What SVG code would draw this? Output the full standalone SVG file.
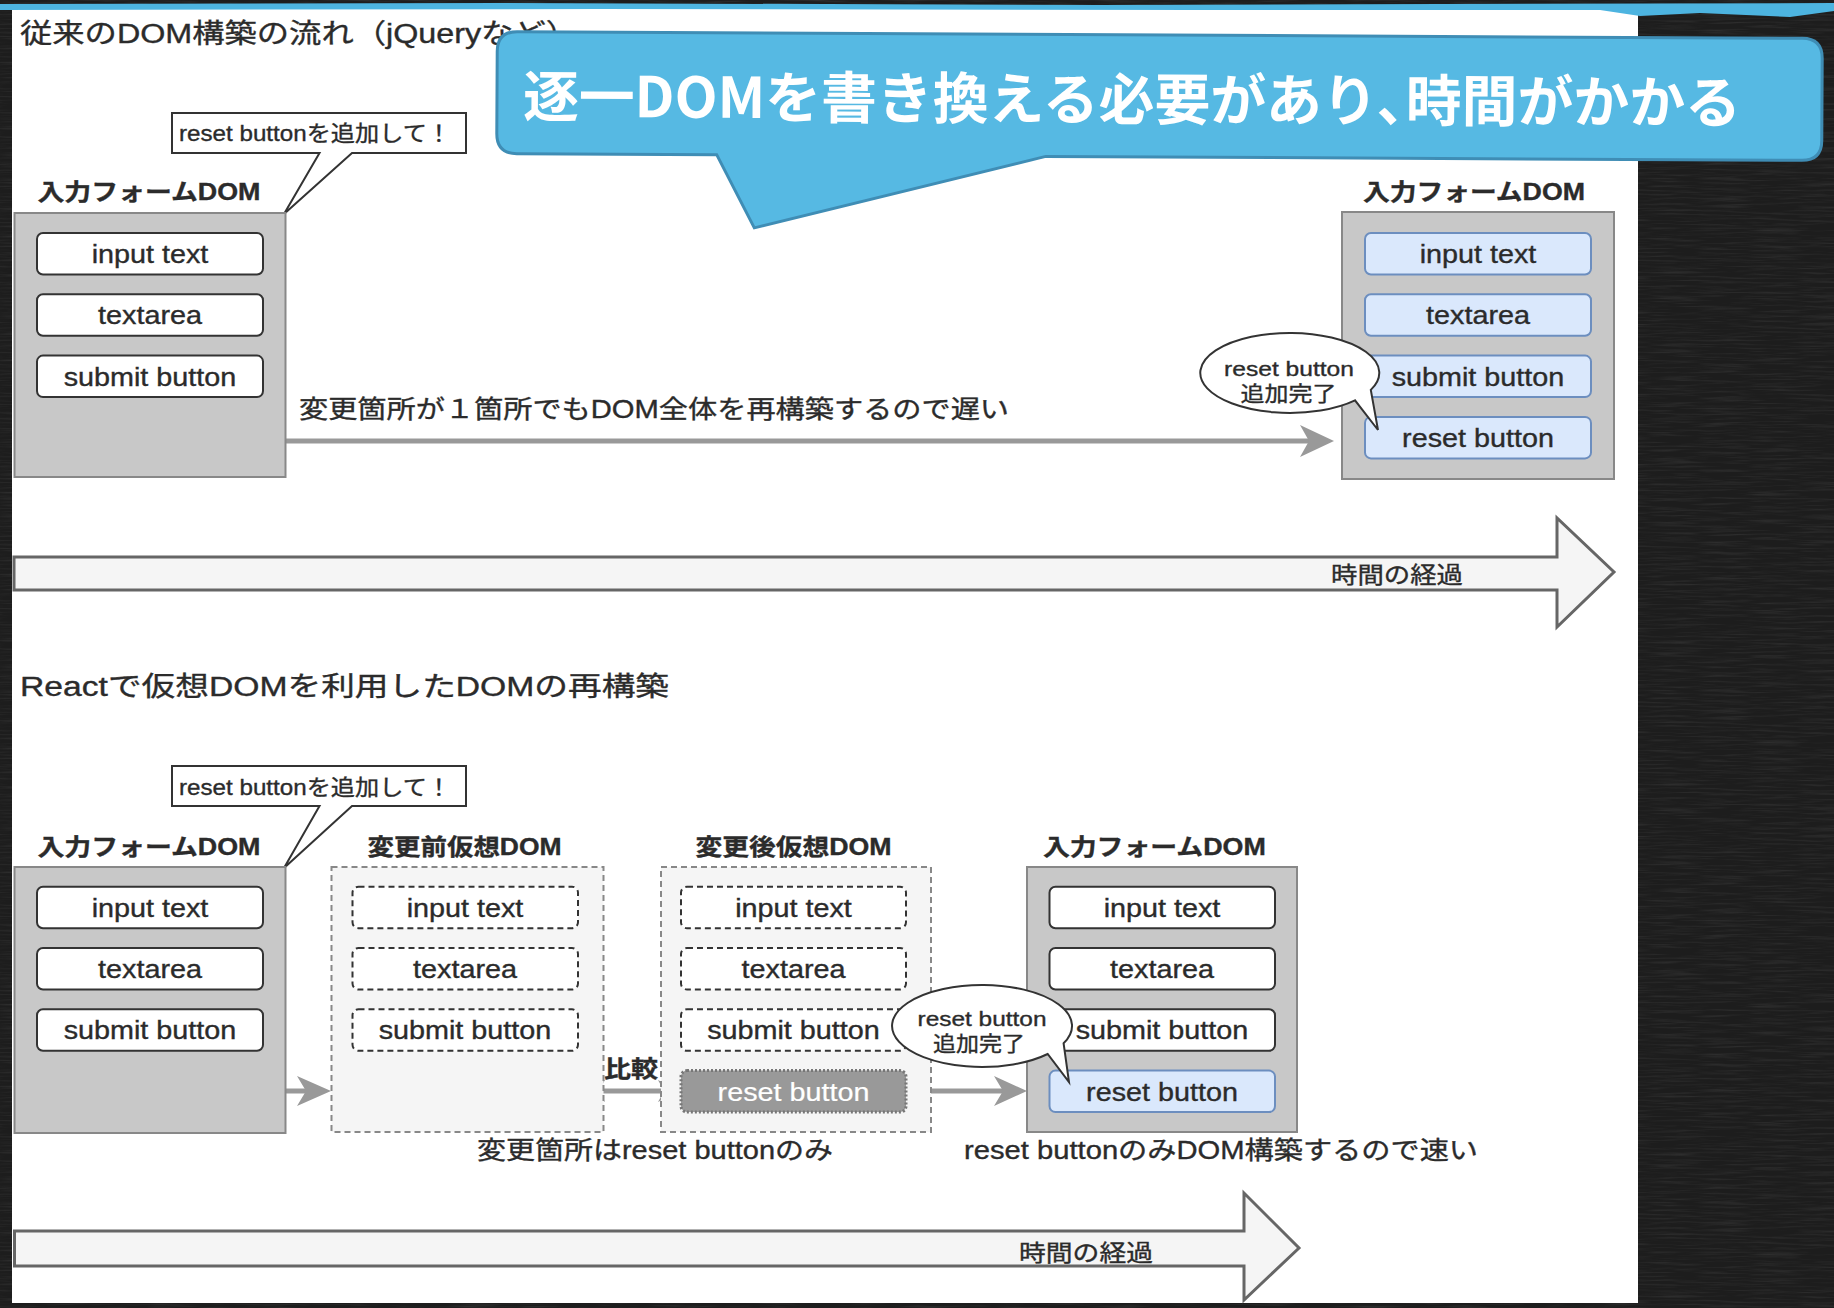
<svg xmlns="http://www.w3.org/2000/svg" width="1834" height="1308" viewBox="0 0 1834 1308">
<defs>
<style>
.t{font-family:"Liberation Sans","Noto Sans CJK JP",sans-serif;fill:#2b2b2b;stroke:#2b2b2b;stroke-width:0.35px;}
.jp{font-family:"Noto Sans CJK JP",sans-serif;}
.c{text-anchor:middle;}
.b{font-weight:bold;}
.lbl{font-size:23px;font-weight:bold;text-anchor:middle;}
.it{font-size:25px;text-anchor:middle;}
.item{fill:#fff;stroke:#333;stroke-width:2;}
.blue{fill:#dae8fc;stroke:#6c8ebf;stroke-width:2;}
.dash{fill:#fff;stroke:#333;stroke-width:2;stroke-dasharray:6 4;}
.frame{fill:#c8c8c8;stroke:#888;stroke-width:2;}
.vframe{fill:#f5f5f5;stroke:#888;stroke-width:2;stroke-dasharray:6 4;}
.conn{stroke:#999;stroke-width:5;fill:none;}
.head{fill:#999;}
.bubble{fill:#fff;stroke:#333;stroke-width:2;}
.time{fill:#f5f5f5;stroke:#666;stroke-width:3;}
</style>
<filter id="grain" x="0" y="0" width="100%" height="100%">
<feTurbulence type="fractalNoise" baseFrequency="0.02 0.5" numOctaves="3" seed="7"/>
<feColorMatrix type="matrix" values="0 0 0 0 0.6  0 0 0 0 0.6  0 0 0 0 0.6  0.9 0 0 0 -0.4"/>
</filter>
</defs>

<!-- background -->
<rect x="0" y="0" width="1834" height="1308" fill="#1d1d1d"/>
<rect x="0" y="0" width="1834" height="1308" filter="url(#grain)" opacity="0.25"/>
<rect x="12" y="9" width="1626" height="1294" fill="#ffffff"/>
<path d="M0,4 L500,3 L1100,5 L1834,3 L1834,11 L1790,17 L1700,13 L1640,16 L1600,10 L1200,10 L600,9 L0,10 Z" fill="#4db4e0"/>

<!-- titles -->
<text class="t" x="20" y="43" font-size="27" textLength="558" lengthAdjust="spacingAndGlyphs">従来のDOM構築の流れ（jQueryなど）</text>
<text class="t" x="20" y="696" font-size="27" textLength="649" lengthAdjust="spacingAndGlyphs">Reactで仮想DOMを利用したDOMの再構築</text>

<!-- connectors -->
<g id="connectors">
<line class="conn" x1="286" y1="441" x2="1312" y2="441"/>
<polygon class="head" points="1334,441 1300,425 1309,441 1300,457"/>
<line class="conn" x1="286" y1="1091" x2="308" y2="1091"/>
<polygon class="head" points="331,1091 297,1076 306,1091 297,1106"/>
<line class="conn" x1="596" y1="1091" x2="667" y2="1091"/>
<polygon class="head" points="584,1091 605,1080 599,1091 605,1102"/>
<polygon class="head" points="679,1091 658,1080 664,1091 658,1102"/>
<line class="conn" x1="931" y1="1091" x2="1005" y2="1091"/>
<polygon class="head" points="1027,1091 994,1076 1003,1091 994,1106"/>
<text class="t jp b c" x="631" y="1077" font-size="23" textLength="54" lengthAdjust="spacingAndGlyphs">比較</text>
<text class="t" x="299" y="418" font-size="25" textLength="710" lengthAdjust="spacingAndGlyphs">変更箇所が１箇所でもDOM全体を再構築するので遅い</text>
</g>

<!-- time arrows -->
<g id="time-top">
<polygon class="time" points="14,557 1557,557 1557,518 1614,572 1557,627 1557,590 14,590"/>
<text class="t" x="1331" y="583" font-size="23" textLength="132" lengthAdjust="spacingAndGlyphs">時間の経過</text>
</g>
<g id="time-bottom">
<polygon class="time" points="14.5,1231 1244,1231 1244,1193 1299,1248 1244,1300 1244,1266 14.5,1266"/>
<text class="t" x="1019" y="1261" font-size="23" textLength="134" lengthAdjust="spacingAndGlyphs">時間の経過</text>
</g>

<!-- top section -->
<g id="req-top">
<path class="bubble" d="M172,113 H466 V153 H352 L284,214 L319.5,153 H172 Z"/>
<text class="t" x="179" y="141" font-size="22" textLength="272" lengthAdjust="spacingAndGlyphs">reset buttonを追加して！</text>
</g>
<g id="dom-top-before">
<text class="t lbl" x="149" y="200" textLength="223" lengthAdjust="spacingAndGlyphs">入力フォームDOM</text>
<rect class="frame" x="14.5" y="213" width="271" height="264"/>
<rect class="item" x="37" y="233" width="226" height="41.5" rx="6"/>
<text class="t it" x="150" y="263" textLength="116.7" lengthAdjust="spacingAndGlyphs">input text</text>
<rect class="item" x="37" y="294.3" width="226" height="41.5" rx="6"/>
<text class="t it" x="150" y="324.3" textLength="104" lengthAdjust="spacingAndGlyphs">textarea</text>
<rect class="item" x="37" y="355.6" width="226" height="41.5" rx="6"/>
<text class="t it" x="150" y="385.6" textLength="172.6" lengthAdjust="spacingAndGlyphs">submit button</text>
</g>
<g id="dom-top-after">
<text class="t lbl" x="1474" y="200" textLength="222" lengthAdjust="spacingAndGlyphs">入力フォームDOM</text>
<rect class="frame" x="1342" y="212" width="272" height="267"/>
<rect class="blue" x="1365" y="233" width="226" height="41.5" rx="6"/>
<text class="t it" x="1478" y="263" textLength="116.7" lengthAdjust="spacingAndGlyphs">input text</text>
<rect class="blue" x="1365" y="294.3" width="226" height="41.5" rx="6"/>
<text class="t it" x="1478" y="324.3" textLength="104" lengthAdjust="spacingAndGlyphs">textarea</text>
<rect class="blue" x="1365" y="355.6" width="226" height="41.5" rx="6"/>
<text class="t it" x="1478" y="385.6" textLength="172.6" lengthAdjust="spacingAndGlyphs">submit button</text>
<rect class="blue" x="1365" y="416.9" width="226" height="41.5" rx="6" stroke-width="3.5"/>
<text class="t it" x="1478" y="446.9" textLength="151.8" lengthAdjust="spacingAndGlyphs">reset button</text>
</g>
<g id="done-top">
<path class="bubble" d="M1370.8,389.9 A89.5,40 0 1 0 1355,400.3 L1378,430 Z"/>
<text class="t c" x="1289" y="376" font-size="21" textLength="130" lengthAdjust="spacingAndGlyphs">reset button</text>
<text class="t c" x="1288.5" y="401" font-size="21" textLength="96" lengthAdjust="spacingAndGlyphs">追加完了</text>
</g>

<!-- bottom section -->
<g id="req-bottom">
<path class="bubble" d="M172,766 H466 V806 H352 L284,868 L319.5,806 H172 Z"/>
<text class="t" x="179" y="795" font-size="22" textLength="272" lengthAdjust="spacingAndGlyphs">reset buttonを追加して！</text>
</g>
<g id="dom-bottom-before">
<text class="t lbl" x="149" y="855" textLength="223" lengthAdjust="spacingAndGlyphs">入力フォームDOM</text>
<rect class="frame" x="14.5" y="867" width="271" height="266"/>
<rect class="item" x="37" y="886.7" width="226" height="41.5" rx="6"/>
<text class="t it" x="150" y="916.7" textLength="116.7" lengthAdjust="spacingAndGlyphs">input text</text>
<rect class="item" x="37" y="948" width="226" height="41.5" rx="6"/>
<text class="t it" x="150" y="978" textLength="104" lengthAdjust="spacingAndGlyphs">textarea</text>
<rect class="item" x="37" y="1009.3" width="226" height="41.5" rx="6"/>
<text class="t it" x="150" y="1039.3" textLength="172.6" lengthAdjust="spacingAndGlyphs">submit button</text>
</g>
<g id="vdom-before">
<text class="t lbl" x="464.6" y="855" textLength="194" lengthAdjust="spacingAndGlyphs">変更前仮想DOM</text>
<rect class="vframe" x="331.5" y="867" width="272" height="265"/>
<rect class="dash" x="352.5" y="886.7" width="225.5" height="41.5" rx="6"/>
<text class="t it" x="465" y="916.7" textLength="116.7" lengthAdjust="spacingAndGlyphs">input text</text>
<rect class="dash" x="352.5" y="948" width="225.5" height="41.5" rx="6"/>
<text class="t it" x="465" y="978" textLength="104" lengthAdjust="spacingAndGlyphs">textarea</text>
<rect class="dash" x="352.5" y="1009.3" width="225.5" height="41.5" rx="6"/>
<text class="t it" x="465" y="1039.3" textLength="172.6" lengthAdjust="spacingAndGlyphs">submit button</text>
<text class="t" x="477" y="1159" font-size="25" textLength="356" lengthAdjust="spacingAndGlyphs">変更箇所はreset buttonのみ</text>
</g>
<g id="vdom-after">
<text class="t lbl" x="793.5" y="855" textLength="196" lengthAdjust="spacingAndGlyphs">変更後仮想DOM</text>
<rect class="vframe" x="661" y="867" width="270" height="265"/>
<rect class="dash" x="681" y="886.7" width="225" height="41.5" rx="6"/>
<text class="t it" x="793.5" y="916.7" textLength="116.7" lengthAdjust="spacingAndGlyphs">input text</text>
<rect class="dash" x="681" y="948" width="225" height="41.5" rx="6"/>
<text class="t it" x="793.5" y="978" textLength="104" lengthAdjust="spacingAndGlyphs">textarea</text>
<rect class="dash" x="681" y="1009.3" width="225" height="41.5" rx="6"/>
<text class="t it" x="793.5" y="1039.3" textLength="172.6" lengthAdjust="spacingAndGlyphs">submit button</text>
<rect x="681" y="1070.6" width="225" height="41.5" rx="6" fill="#999" stroke="#777" stroke-width="3" stroke-dasharray="2 2"/>
<text class="t it" x="793.5" y="1100.6" textLength="151.8" lengthAdjust="spacingAndGlyphs" style="fill:#fff;stroke:#fff;stroke-width:0.2px">reset button</text>
</g>
<g id="dom-bottom-after">
<text class="t lbl" x="1154.4" y="855" textLength="223" lengthAdjust="spacingAndGlyphs">入力フォームDOM</text>
<rect class="frame" x="1027" y="867" width="270" height="265"/>
<rect class="item" x="1049.5" y="886.7" width="225.5" height="41.5" rx="6"/>
<text class="t it" x="1162" y="916.7" textLength="116.7" lengthAdjust="spacingAndGlyphs">input text</text>
<rect class="item" x="1049.5" y="948" width="225.5" height="41.5" rx="6"/>
<text class="t it" x="1162" y="978" textLength="104" lengthAdjust="spacingAndGlyphs">textarea</text>
<rect class="item" x="1049.5" y="1009.3" width="225.5" height="41.5" rx="6"/>
<text class="t it" x="1162" y="1039.3" textLength="172.6" lengthAdjust="spacingAndGlyphs">submit button</text>
<rect class="blue" x="1049.5" y="1070.6" width="225.5" height="41.5" rx="6" stroke-width="3.5"/>
<text class="t it" x="1162" y="1100.6" textLength="151.8" lengthAdjust="spacingAndGlyphs">reset button</text>
<text class="t" x="964" y="1159" font-size="25" textLength="514" lengthAdjust="spacingAndGlyphs">reset buttonのみDOM構築するので速い</text>
</g>
<g id="done-bottom">
<path class="bubble" d="M1063.6,1043.3 A90,41 0 1 0 1047.7,1054 L1069,1082 Z"/>
<text class="t c" x="982" y="1026" font-size="21" textLength="129" lengthAdjust="spacingAndGlyphs">reset button</text>
<text class="t c" x="979" y="1051" font-size="21" textLength="92" lengthAdjust="spacingAndGlyphs">追加完了</text>
</g>

<!-- blue callout -->
<g id="callout" transform="rotate(0.3 1160 96)">
<path d="M517,35 H1802 Q1822,35 1822,55 V137 Q1822,157 1802,157 H1046 L755,230 L717,157 H517 Q497,157 497,137 V55 Q497,35 517,35 Z" fill="#56b9e3" stroke="#3f8db5" stroke-width="3"/>
<text x="523" y="120" font-family="'Noto Sans CJK JP',sans-serif" font-weight="bold" font-size="56" fill="#ffffff" textLength="1218" lengthAdjust="spacingAndGlyphs">逐一DOMを書き換える必要があり､時間がかかる</text>
</g>
</svg>
